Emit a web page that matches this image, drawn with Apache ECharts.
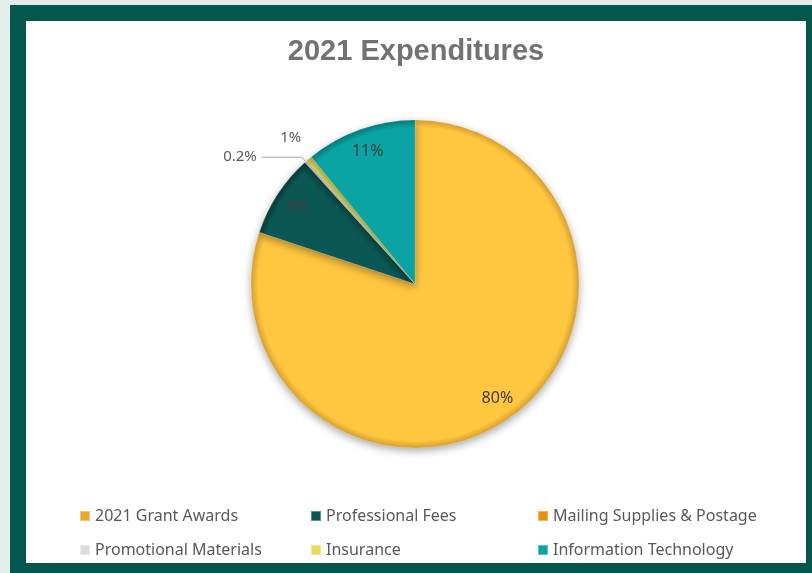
<!DOCTYPE html>
<html>
<head>
<meta charset="utf-8">
<script src="https://cdn.jsdelivr.net/npm/echarts@6/dist/echarts.min.js"></script>
<style>
  html, body { margin: 0; padding: 0; width: 812px; height: 573px; overflow: hidden; background: #e4ecec; }
  .frame {
    position: absolute; left: 10px; top: 5px;
    width: 780px; height: 542px;
    border: 16px solid #03574f;
    background: #fff;
  }
  #chart { width: 780px; height: 542px; }
</style>
</head>
<body>
<div class="frame"><div id="chart"></div></div>
<script>
// data (shares, %)
const categories = ['2021 Grant Awards', 'Professional Fees', 'Mailing Supplies & Postage',
  'Promotional Materials', 'Insurance', 'Information Technology']
const values = [80.1, 8.2, 0, 0.2, 0.6, 10.9]
const colors = ['#ffc740', '#0b5753', '#e8900a', '#dcdcdc', '#e6dc55', '#0aa4a4']
const rims = ['#d9a02a', '#063a37', '#b86d05', '#b5b5b5', '#bdb33a', '#067a7a']
const legendIcons = ['#e8aa2c', '#0b5753', '#e8900a', '#dcdcdc', '#e6dc55', '#0aa4a4']

// legend is laid out in 3 columns of 2
const legendCols = [[0, 3], [1, 4], [2, 5]]

// how each share is labelled: inside the slice, outside with a leader line, or just outside
const labelMode = ['inner', 'inner', 'none', 'line', 'outer', 'inner']

const CX = 389, CY = 263, R = 164
const FONT = 'Noto Sans'

function fmtPct(p) {
  return p < 0.5 ? p.toFixed(1) + '%' : Math.round(p) + '%'
}

function sliceColor(i) {
  return {
    type: 'radial', x: CX, y: CY, r: R, global: true,
    colorStops: [
      { offset: 0, color: colors[i] },
      { offset: 0.955, color: colors[i] },
      { offset: 1, color: rims[i] },
    ],
  }
}

const chart = echarts.init(document.getElementById('chart'))

const labelText = {
  formatter: p => fmtPct(p.percent),
  fontFamily: FONT,
  fontSize: 15,
}

// main series: the slices, plus the leader-line label
const mainData = categories.map((name, i) => ({
  name,
  value: values[i],
  itemStyle: { color: sliceColor(i) },
  label: { show: labelMode[i] === 'line' },
  labelLine: { show: labelMode[i] === 'line' },
}))

// transparent ring series carrying labels at a given radius
function labelRing(radius, mode, color, size) {
  return {
    type: 'pie',
    center: [CX, CY],
    radius,
    startAngle: 90,
    clockwise: true,
    animation: false,
    silent: true,
    legendHoverLink: false,
    itemStyle: { color: 'transparent' },
    label: { ...labelText, fontSize: size, position: 'inside', color },
    labelLine: { show: false },
    labelLayout: { hideOverlap: false },
    data: categories.map((name, i) => ({
      name,
      value: values[i],
      label: { show: labelMode[i] === mode },
    })),
  }
}

const legendBase = {
  orient: 'vertical',
  icon: 'rect',
  itemWidth: 10,
  itemHeight: 10,
  itemGap: 18,
  padding: 0,
  top: 487,
  selectedMode: false,
  textStyle: { fontFamily: FONT, fontSize: 16, color: '#595959' },
}

chart.setOption({
  color: colors,
  title: {
    text: '2021 Expenditures',
    left: 'center',
    top: 11,
    textStyle: { fontFamily: 'Liberation Sans', fontSize: 29, fontWeight: 'bold', color: '#767171' },
  },
  legend: legendCols.map((col, k) => ({
    ...legendBase,
    left: [53, 284, 511][k],
    data: col.map(i => ({ name: categories[i], itemStyle: { color: legendIcons[i] } })),
  })),
  series: [
    {
      type: 'pie',
      center: [CX, CY],
      radius: R,
      startAngle: 90,
      clockwise: true,
      animation: false,
      silent: true,
      avoidLabelOverlap: false,
      itemStyle: {
        borderColor: 'rgba(255,255,255,0.35)',
        borderWidth: 0.5,
        shadowBlur: 8,
        shadowColor: 'rgba(0,0,0,0.35)',
        shadowOffsetY: 3,
      },
      label: { ...labelText, position: 'outside', color: '#595959' },
      labelLine: { length: 6, length2: 40, lineStyle: { color: '#a6a6a6', width: 1 } },
      labelLayout: { hideOverlap: false },
      data: mainData,
    },
    labelRing([R * 0.68, R], 'inner', '#404040', 16),
    labelRing([R, R + 50], 'outer', '#595959', 15),
  ],
})
</script>
</body>
</html>
